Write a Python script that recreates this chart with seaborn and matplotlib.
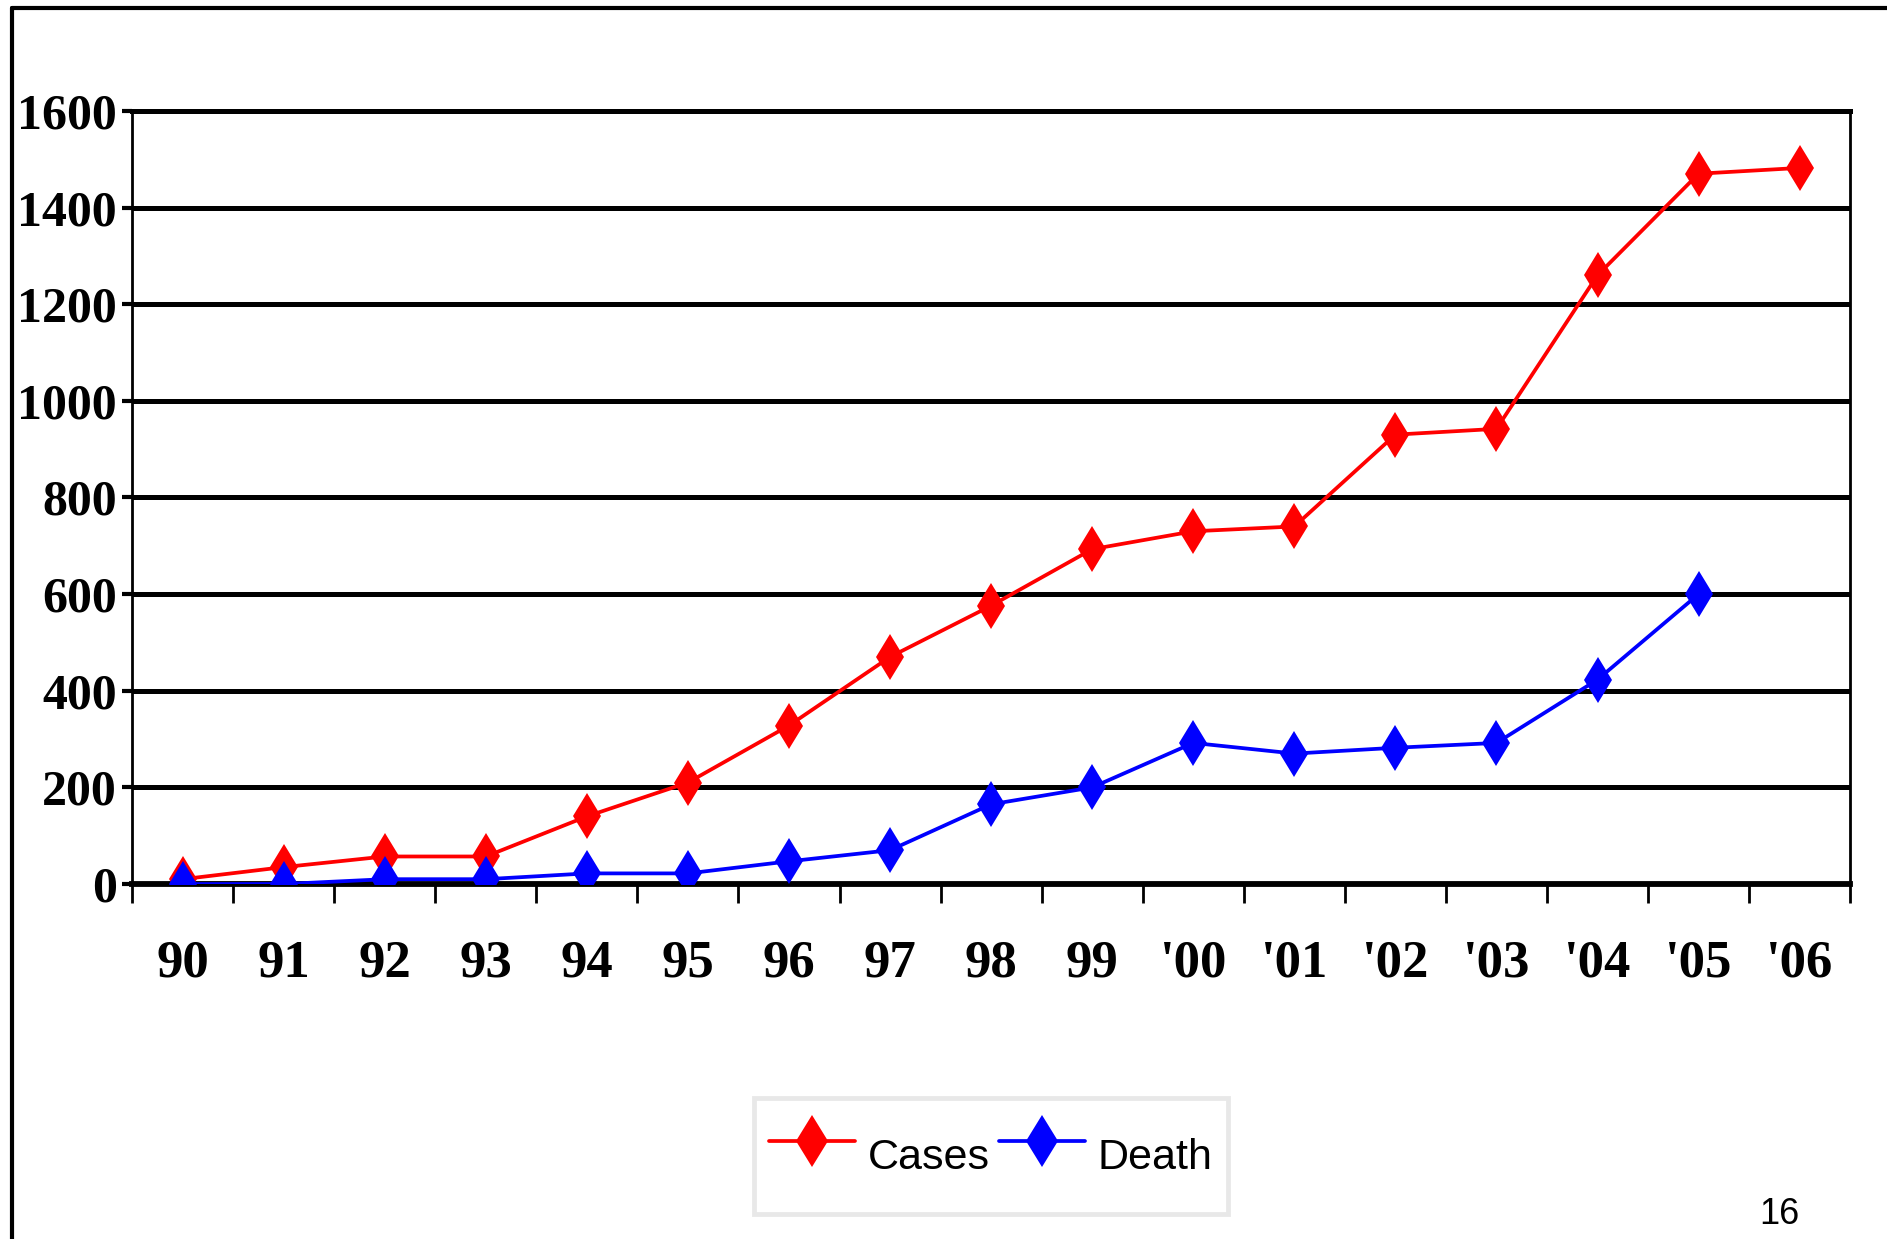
import numpy as np
import pandas as pd
import matplotlib
matplotlib.use("Agg")
import matplotlib.pyplot as plt
from matplotlib import font_manager
from matplotlib.lines import Line2D
from matplotlib.ticker import FixedLocator
import seaborn as sns

#%% Data
years = ["90", "91", "92", "93", "94", "95", "96", "97", "98", "99",
         "'00", "'01", "'02", "'03", "'04", "'05", "'06"]
cases = [10, 35, 57, 57, 140, 210, 328, 470, 576, 693, 730, 740, 930, 942, 1260, 1470, 1482]
death = [0, 0, 10, 10, 22, 22, 47, 70, 165, 200, 292, 270, 282, 292, 423, 600]
y_ticks = [0, 200, 400, 600, 800, 1000, 1200, 1400, 1600]

#%% Fonts
sns.set_style("white")
names = {f.name for f in font_manager.fontManager.ttflist}
num_font = "Liberation Serif" if "Liberation Serif" in names else "DejaVu Serif"
leg_font = "Liberation Sans Narrow" if "Liberation Sans Narrow" in names else "Liberation Sans"
plt.rcParams["font.family"] = [num_font, "DejaVu Sans"]
plt.rcParams["text.color"] = "black"
plt.rcParams["xtick.color"] = "black"
plt.rcParams["ytick.color"] = "black"

#%% Plot
fig = plt.figure(figsize=(18.87, 12.39), dpi=100)
ax = fig.add_axes([0.07, 0.2865, 0.9105, 0.624])

df_cases = pd.DataFrame({"year": years, "value": cases})
df_death = pd.DataFrame({"year": years[:len(death)], "value": death})

sns.lineplot(data=df_cases, x="year", y="value", ax=ax, sort=False, color="#ff0000",
             marker="d", markersize=23, markeredgecolor="#ff0000", markeredgewidth=0,
             linewidth=2.7, label="Cases", zorder=3)
sns.lineplot(data=df_death, x="year", y="value", ax=ax, sort=False, color="#0000ff",
             marker="d", markersize=23, markeredgecolor="#0000ff", markeredgewidth=0,
             linewidth=2.7, label="Death", zorder=4)

ax.set_xlim(-0.5, len(years) - 0.5)
ax.set_ylim(0, 1600)
ax.set_xlabel("")
ax.set_ylabel("")

# horizontal gridlines
ax.set_yticks(y_ticks)
ax.yaxis.grid(True, color="black", linewidth=3.6, zorder=1)
ax.xaxis.grid(False)
ax.set_axisbelow(True)

ax.set_yticklabels([str(v) for v in y_ticks], fontsize=36, fontweight="bold", family=num_font)
ax.tick_params(axis="y", which="major", direction="out", length=7, width=3, pad=4, left=True)

ax.set_xticks(range(len(years)))
ax.set_xticklabels(years, fontsize=38, fontweight="bold", family=num_font)
ax.tick_params(axis="x", which="major", length=0, pad=40, bottom=True)
ax.xaxis.set_minor_locator(FixedLocator(np.arange(-0.5, len(years), 1.0)))
ax.tick_params(axis="x", which="minor", direction="out", length=14, width=2, bottom=True)

for side in ["left", "right", "top"]:
    ax.spines[side].set_visible(True)
    ax.spines[side].set_color("black")
    ax.spines[side].set_linewidth(2)
ax.spines["top"].set_linewidth(3.6)
ax.spines["bottom"].set_color("black")
ax.spines["bottom"].set_linewidth(4.2)

# legend below the plot
ax.get_legend().remove()
handles, labels = ax.get_legend_handles_labels()
leg = fig.legend(handles, labels, loc="center", bbox_to_anchor=(0.525, 0.067), ncol=2,
                 frameon=True, fancybox=False, borderpad=0.35, handleheight=2.7,
                 handlelength=2.0, handletextpad=0.3, columnspacing=0.2,
                 markerscale=1.15, prop={"family": leg_font, "size": 31})
leg.get_frame().set_edgecolor("#e3e3e3")
leg.get_frame().set_linewidth(3.5)

# slide frame and page number
fig.add_artist(Line2D([0.0064, 1.0], [0.9935, 0.9935], color="black", linewidth=3, transform=fig.transFigure))
fig.add_artist(Line2D([0.0064, 0.0064], [0.0, 0.9935], color="black", linewidth=3, transform=fig.transFigure))
fig.text(0.943, 0.006, "16", fontsize=26, family="Liberation Sans", ha="center", va="bottom")

fig.savefig("out.png", dpi=100)
